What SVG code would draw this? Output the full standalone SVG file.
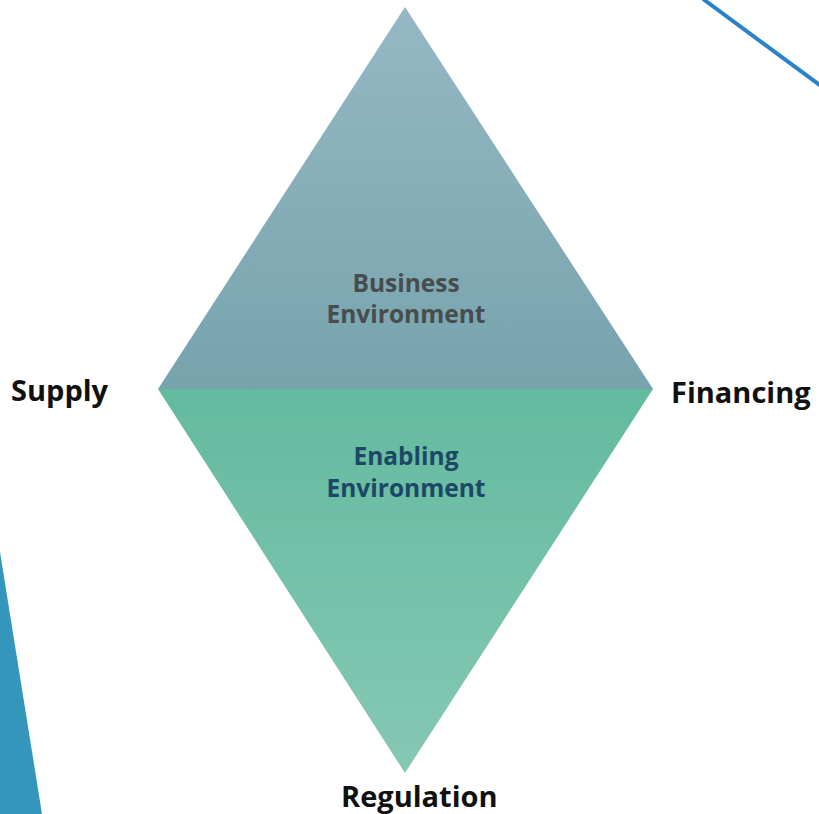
<svg xmlns="http://www.w3.org/2000/svg" width="819" height="814" viewBox="0 0 819 814">
  <defs>
    <linearGradient id="gTop" x1="0" y1="7" x2="0" y2="389" gradientUnits="userSpaceOnUse">
      <stop offset="0" stop-color="#95b8c4"/>
      <stop offset="1" stop-color="#77a3ad"/>
    </linearGradient>
    <linearGradient id="gBot" x1="0" y1="389" x2="0" y2="773" gradientUnits="userSpaceOnUse">
      <stop offset="0" stop-color="#63ba9e"/>
      <stop offset="1" stop-color="#86c8b4"/>
    </linearGradient>
    <style>
      .lbl { font-family: "Open Sans", "DejaVu Sans", sans-serif; font-weight: bold; fill: #111111; font-size: 29px; }
      .in { font-family: "Open Sans", "DejaVu Sans", sans-serif; font-weight: bold; font-size: 24.5px; text-anchor: middle; }
    </style>
  </defs>
  <rect width="819" height="814" fill="#ffffff"/>
  <g id="decor">
    <polygon points="0,552 42,814 0,814" fill="#3596bc"/>
    <line x1="703" y1="-1" x2="821" y2="86" stroke="#2a82c8" stroke-width="4"/>
  </g>
  <g id="business">
    <polygon points="405,7 653,389 158,389" fill="url(#gTop)"/>
    <text class="in" x="406" y="292" fill="#474c4e">Business</text>
    <text class="in" x="406" y="323" fill="#474c4e">Environment</text>
  </g>
  <g id="enabling">
    <polygon points="158,389 653,389 405,773" fill="url(#gBot)"/>
    <text class="in" x="406" y="465" fill="#1b4866">Enabling</text>
    <text class="in" x="406" y="497" fill="#1b4866">Environment</text>
  </g>
  <g id="supply"><text class="lbl" x="11" y="401">Supply</text></g>
  <g id="financing"><text class="lbl" x="671" y="403">Financing</text></g>
  <g id="regulation"><text class="lbl" x="341" y="807">Regulation</text></g>
  <g id="connectors"/>
</svg>
